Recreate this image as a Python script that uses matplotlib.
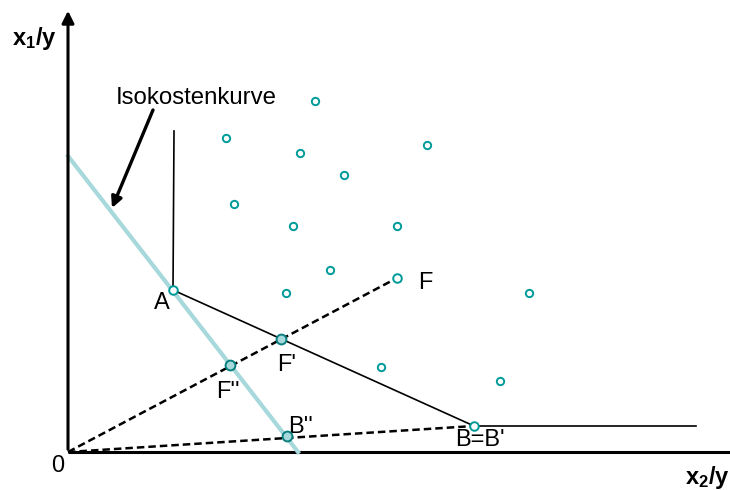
import numpy as np
import matplotlib.pyplot as plt

plt.rcParams['font.family'] = ['Liberation Sans', 'DejaVu Sans']

# Streupunkte (Produktionsverfahren), Einheiten: x2/y, x1/y
px = [24.7, 15.8, 23.2, 35.9, 27.6, 16.6, 22.5, 32.9, 26.2, 21.8, 46.1, 31.3, 43.2]
py = [35.1, 31.4, 29.9, 30.7, 27.7, 24.8, 22.6, 22.6, 18.2, 15.9, 15.9, 8.5, 7.1]

# Isoquante: senkrechter Ast, A, B, waagrechter Ast
iso_x = [10.6, 10.5, 40.6, 62.8]
iso_y = [32.1, 16.2, 2.6, 2.6]

# Isokostenkurve
cost_x = [0, 23.0]
cost_y = [29.6, 0]

A = (10.5, 16.2)
B = (40.6, 2.6)
F = (32.9, 17.4)
F1 = (21.3, 11.3)
F2 = (16.2, 8.7)
B2 = (21.9, 1.6)

teal = '#009a9a'
light = '#a6d8dc'

fig = plt.figure(figsize=(7.3, 4.9), dpi=100)
ax = fig.add_axes([0, 0, 1, 1])
ax.set_xlim(-6.8, 66.2)
ax.set_ylim(-3.8, 45.2)
ax.axis('off')

# Achsen
ax.annotate('', xy=(0, 44.4), xytext=(0, 0),
            arrowprops=dict(arrowstyle='-|>', color='black', lw=2.2, mutation_scale=18))
ax.plot([0, 66.2], [0, 0], color='black', lw=2.2, solid_capstyle='butt')

ax.plot(cost_x, cost_y, color=light, lw=3, zorder=2)
ax.plot(iso_x, iso_y, color='black', lw=1.2, zorder=3)
ax.plot([0, F[0]], [0, F[1]], color='black', lw=1.8, ls=(0, (3, 1.6)), zorder=3)
ax.plot([0, B[0]], [0, B[1]], color='black', lw=1.8, ls=(0, (3, 1.6)), zorder=3)

ax.scatter(px, py, s=28, facecolor='white', edgecolor=teal, lw=1.4, zorder=4)
ax.scatter([A[0], B[0], F[0]], [A[1], B[1], F[1]], s=38, facecolor='white',
           edgecolor=teal, lw=1.4, zorder=5)
ax.scatter([F1[0], F2[0], B2[0]], [F1[1], F2[1], B2[1]], s=50, facecolor=light,
           edgecolor='#0a7f7f', lw=1.4, zorder=5)

ax.text(12.8, 35.4, 'Isokostenkurve', ha='center', va='center', fontsize=17.3)
ax.annotate('', xy=(4.4, 24.4), xytext=(8.5, 34.2),
            arrowprops=dict(arrowstyle='-|>', color='black', lw=2.4, mutation_scale=16,
                            shrinkA=0, shrinkB=0))

fs = 17
ax.text(9.4, 14.9, 'A', fontsize=fs, ha='center', va='center')
ax.text(35.7, 16.9, 'F', fontsize=fs, ha='center', va='center')
ax.text(21.9, 8.7, "F'", fontsize=fs, ha='center', va='center')
ax.text(16.0, 6.0, "F''", fontsize=fs, ha='center', va='center')
ax.text(23.3, 2.5, "B''", fontsize=fs, ha='center', va='center')
ax.text(41.2, 1.2, "B=B'", fontsize=fs, ha='center', va='center')
ax.text(-1.0, -1.4, '0', fontsize=fs, ha='center', va='center')
ax.text(-3.35, 41.4, '$\\mathregular{x_1/y}$', fontsize=17, fontweight='bold',
        ha='center', va='center')
ax.text(63.9, -2.5, '$\\mathregular{x_2/y}$', fontsize=17, fontweight='bold',
        ha='center', va='center')

fig.savefig('out.png', dpi=100)
